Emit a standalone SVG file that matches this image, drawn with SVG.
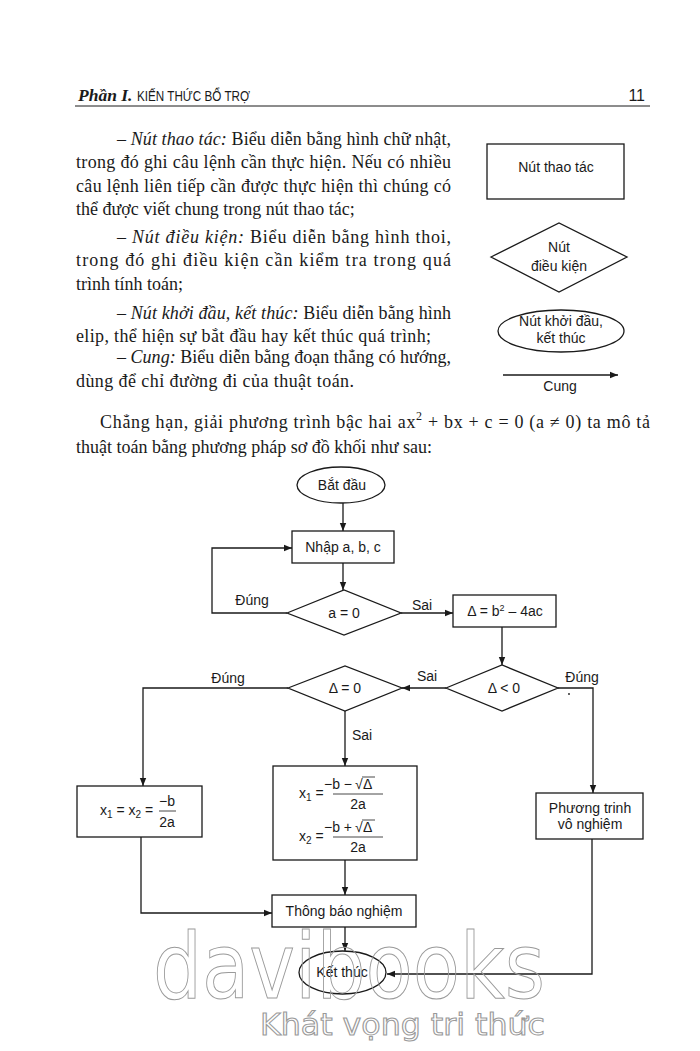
<svg xmlns="http://www.w3.org/2000/svg" width="700" height="1051" viewBox="0 0 700 1051">
<defs>
<style>
.body{font-family:"Liberation Serif","Times New Roman",serif;font-size:18px;fill:#1a1a1a}
.it{font-style:italic}
.fc{font-family:"Liberation Sans",Arial,sans-serif;font-size:14px;fill:#1a1a1a}
.mid{text-anchor:middle}
.shape{fill:#fff;stroke:#1a1a1a;stroke-width:1.3}
.conn{fill:none;stroke:#1a1a1a;stroke-width:1.3}
.thin{fill:none;stroke:#1a1a1a;stroke-width:0.8}
.wm{fill:none;stroke:#9a9a9a;stroke-width:1}
</style>
<marker id="ah" viewBox="0 0 10 10" refX="10" refY="5" markerWidth="8" markerHeight="8" markerUnits="userSpaceOnUse" orient="auto"><path d="M0,1 L10,5 L0,9 z" fill="#1a1a1a"/></marker>
</defs>
<rect width="700" height="1051" fill="#fff"/>

<g id="header">
<text x="78" y="101" style="font-family:'Liberation Serif',serif;font-size:17.5px;font-weight:bold;font-style:italic;fill:#1a1a1a">Phần I.</text>
<text x="137" y="101" textLength="113" lengthAdjust="spacingAndGlyphs" style="font-family:'Liberation Sans',sans-serif;font-size:15px;fill:#1a1a1a">KIẾN THỨC BỔ TRỢ</text>
<text x="645" y="101" text-anchor="end" style="font-family:'Liberation Sans',sans-serif;font-size:16px;fill:#1a1a1a">11</text>
<line x1="75" y1="106" x2="650" y2="106" stroke="#1a1a1a" stroke-width="1"/>
</g>

<g id="paragraph">
<text class="body" x="117" y="145" textLength="334">– <tspan class="it">Nút thao tác:</tspan> Biểu diễn bằng hình chữ nhật,</text>
<text class="body" x="76" y="168" textLength="375">trong đó ghi câu lệnh cần thực hiện. Nếu có nhiều</text>
<text class="body" x="76" y="192" textLength="375">câu lệnh liên tiếp cần được thực hiện thì chúng có</text>
<text class="body" x="76" y="215">thể được viết chung trong nút thao tác;</text>
<text class="body" x="117" y="243" textLength="334">– <tspan class="it">Nút điều kiện:</tspan> Biểu diễn bằng hình thoi,</text>
<text class="body" x="76" y="266" textLength="375">trong đó ghi điều kiện cần kiểm tra trong quá</text>
<text class="body" x="76" y="290">trình tính toán;</text>
<text class="body" x="117" y="319" textLength="334">– <tspan class="it">Nút khởi đầu, kết thúc:</tspan> Biểu diễn bằng hình</text>
<text class="body" x="76" y="342" textLength="355">elip, thể hiện sự bắt đầu hay kết thúc quá trình;</text>
<text class="body" x="117" y="363" textLength="334">– <tspan class="it">Cung:</tspan> Biểu diễn bằng đoạn thẳng có hướng,</text>
<text class="body" x="76" y="387" textLength="278">dùng để chỉ đường đi của thuật toán.</text>
<text class="body" x="100" y="428" textLength="550">Chẳng hạn, giải phương trình bậc hai ax<tspan dy="-8" font-size="12">2</tspan><tspan dy="8"> + bx + c = 0 (a ≠ 0) ta mô tả</tspan></text>
<text class="body" x="76" y="453">thuật toán bằng phương pháp sơ đồ khối như sau:</text>
</g>

<g id="legend-rect">
<rect class="shape" x="487" y="144" width="137" height="55"/>
<text class="fc mid" x="556" y="172">Nút thao tác</text>
</g>
<g id="legend-diamond">
<polygon class="shape" points="491,257 559,223 627,257 559,292"/>
<text class="fc mid" x="559" y="252">Nút</text>
<text class="fc mid" x="559" y="271">điều kiện</text>
</g>
<g id="legend-ellipse">
<ellipse class="shape" cx="561" cy="331" rx="63" ry="21"/>
<text class="fc mid" x="561" y="326">Nút khởi đầu,</text>
<text class="fc mid" x="561" y="343">kết thúc</text>
</g>
<g id="legend-arc">
<line class="conn" x1="503" y1="375" x2="618" y2="375" marker-end="url(#ah)"/>
<text class="fc mid" x="560" y="391">Cung</text>
</g>

<g id="connectors">
<path class="conn" d="M343,503 V531" marker-end="url(#ah)"/>
<path class="conn" d="M343,563 V590" marker-end="url(#ah)"/>
<path class="conn" d="M287,613 H212 V548 H292" marker-end="url(#ah)"/>
<path class="conn" d="M401,613 H453" marker-end="url(#ah)"/>
<path class="conn" d="M502,627 V665" marker-end="url(#ah)"/>
<path class="conn" d="M446,688 H402" marker-end="url(#ah)"/>
<path class="conn" d="M558,688 H593 V793" marker-end="url(#ah)"/>
<path class="conn" d="M288,688 H143 V786" marker-end="url(#ah)"/>
<path class="conn" d="M345,711 V766" marker-end="url(#ah)"/>
<path class="conn" d="M345,860 V895" marker-end="url(#ah)"/>
<path class="conn" d="M141,837 V913 H272" marker-end="url(#ah)"/>
<path class="conn" d="M345,927 V951" marker-end="url(#ah)"/>
<path class="conn" d="M592,839 V974 H387" marker-end="url(#ah)"/>
<text class="fc mid" x="252" y="605">Đúng</text>
<text class="fc mid" x="422" y="610">Sai</text>
<text class="fc mid" x="427" y="681">Sai</text>
<text class="fc mid" x="582" y="682">Đúng</text>
<circle cx="569" cy="694" r="0.9" fill="#1a1a1a"/>
<text class="fc mid" x="228" y="683">Đúng</text>
<text class="fc mid" x="362" y="740">Sai</text>
</g>

<g id="start">
<ellipse class="shape" cx="341" cy="485" rx="44" ry="18"/>
<text class="fc mid" x="342" y="490">Bắt đầu</text>
</g>
<g id="input">
<rect class="shape" x="292" y="531" width="102" height="32"/>
<text class="fc mid" x="343" y="552">Nhập a, b, c</text>
</g>
<g id="cond-a">
<polygon class="shape" points="287,613 344,590 401,613 344,635"/>
<text class="fc mid" x="344" y="618">a = 0</text>
</g>
<g id="delta">
<rect class="shape" x="453" y="595" width="103" height="32"/>
<text class="fc mid" x="505" y="616">Δ = b<tspan dy="-5" font-size="9">2</tspan><tspan dy="5"> – 4ac</tspan></text>
</g>
<g id="cond-neg">
<polygon class="shape" points="446,688 502,665 558,688 502,711"/>
<text class="fc mid" x="504" y="693">Δ &lt; 0</text>
</g>
<g id="cond-zero">
<polygon class="shape" points="288,688 345,666 402,688 345,711"/>
<text class="fc mid" x="345" y="693">Δ = 0</text>
</g>
<g id="double-root">
<rect class="shape" x="77" y="786" width="125" height="51"/>
<text class="fc" x="100" y="815">x<tspan dy="3" font-size="10">1</tspan><tspan dy="-3"> = x</tspan><tspan dy="3" font-size="10">2</tspan><tspan dy="-3"> =</tspan></text>
<text class="fc mid" x="167" y="806">−b</text>
<line class="thin" x1="159" y1="811" x2="176" y2="811"/>
<text class="fc mid" x="167" y="827">2a</text>
</g>
<g id="two-roots">
<rect class="shape" x="273" y="766" width="144" height="94"/>
<text class="fc" x="299" y="798">x<tspan dy="3" font-size="10">1</tspan><tspan dy="-3"> =</tspan></text>
<text class="fc" x="352" y="789" text-anchor="end">−b −</text>
<text class="fc" x="355" y="789">√</text>
<text class="fc" x="363" y="789">Δ</text>
<line class="thin" x1="362" y1="777" x2="375" y2="777"/>
<line class="thin" x1="333" y1="794" x2="383" y2="794"/>
<text class="fc mid" x="358" y="809">2a</text>
<text class="fc" x="299" y="841">x<tspan dy="3" font-size="10">2</tspan><tspan dy="-3"> =</tspan></text>
<text class="fc" x="352" y="832" text-anchor="end">−b +</text>
<text class="fc" x="355" y="832">√</text>
<text class="fc" x="363" y="832">Δ</text>
<line class="thin" x1="362" y1="820" x2="375" y2="820"/>
<line class="thin" x1="333" y1="837" x2="383" y2="837"/>
<text class="fc mid" x="358" y="852">2a</text>
</g>
<g id="no-root">
<rect class="shape" x="536" y="793" width="107" height="46"/>
<text class="fc mid" x="590" y="813">Phương trinh</text>
<text class="fc mid" x="590" y="829">vô nghiệm</text>
</g>
<g id="report">
<rect class="shape" x="272" y="895" width="144" height="32"/>
<text class="fc mid" x="344" y="916">Thông báo nghiệm</text>
</g>
<g id="end">
<ellipse class="shape" cx="342.5" cy="972.5" rx="43.5" ry="21.5"/>
<text class="fc mid" x="342" y="977">Kết thúc</text>
</g>

<g id="watermark">
<text class="wm" x="153" y="998" textLength="392" lengthAdjust="spacingAndGlyphs" style="font-family:'DejaVu Sans',sans-serif;font-size:90px">davibooks</text>
<text class="wm" x="260" y="1035" textLength="285" lengthAdjust="spacingAndGlyphs" style="font-family:'DejaVu Sans Condensed','DejaVu Sans',sans-serif;font-size:30px">Khát vọng tri thức</text>
</g>
</svg>
